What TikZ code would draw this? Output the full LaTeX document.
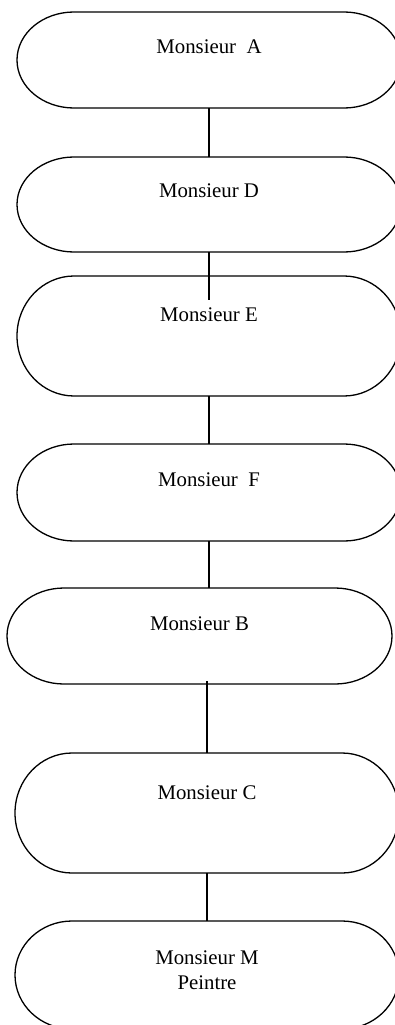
\documentclass[tikz,border=0pt]{standalone}
\usepackage{fontspec}
\setmainfont{Liberation Serif}
\usetikzlibrary{calc}
\tikzset{
  termbox/.style={rectangle, draw=none, inner sep=0pt, outer sep=0pt, minimum width=384pt},
  termline/.style={draw=black, line width=1.3pt},
  lbl/.style={anchor=base, inner sep=0pt, font=\fontsize{20.8pt}{24.5pt}\selectfont, align=center},
  conn/.style={draw=black, line width=1.3pt}
}
\newcommand\termoutline[1]{%
  \draw[termline] let \p1=(#1.north west), \p2=(#1.south east), \n1={(\y1-\y2)/2} in
    (\x1+57pt,\y1) -- (\x2-57pt,\y1)
    arc[start angle=90, end angle=-90, x radius=57pt, y radius={\n1*1pt}]
    -- (\x1+57pt,\y2)
    arc[start angle=270, end angle=90, x radius=57pt, y radius={\n1*1pt}] -- cycle;}
\begin{document}
\begin{tikzpicture}[x=1pt,y=1pt]
\useasboundingbox (0,0) rectangle (395,-1025);
% boxes
\node[termbox, minimum height=96pt] (A) at (209,-60) {};
\node[termbox, minimum height=95pt] (D) at (209,-204.5) {};
\node[termbox, minimum height=120pt] (E) at (209,-336) {};
\node[termbox, minimum height=97pt] (F) at (209,-492.5) {};
\node[termbox, minimum height=96pt, minimum width=385pt] (B) at (199.5,-636) {};
\node[termbox, minimum height=120pt] (C) at (207,-813) {};
\node[termbox, minimum height=108pt] (M) at (207,-975) {};
\foreach \bx in {A,D,E,F,B,C,M} {\termoutline{\bx}}
% labels
\node[lbl] (tA) at (209,-53) {Monsieur\ \ A};
\node[lbl] (tD) at (209,-197) {Monsieur D};
\node[lbl] (tE) at (209,-321) {Monsieur E};
\node[lbl] (tF) at (209,-486) {Monsieur\ \ F};
\node[lbl] (tB) at (199.5,-630) {Monsieur B};
\node[lbl] (tC) at (207,-799) {Monsieur C};
\node[lbl] (tM) at (207,-989) {Monsieur M\\Peintre};
% connectors
\draw[conn] (A.south) -- (D.north);
\draw[conn] (D.south) -- ($(E.north)+(0,-24)$);
\draw[conn] (E.south) -- (F.north);
\draw[conn] (F.south) -- (F.south |- B.north);
\draw[conn] ($(C.north |- B.south)+(0,3)$) -- (C.north);
\draw[conn] (C.south) -- (M.north);
\end{tikzpicture}
\end{document}
